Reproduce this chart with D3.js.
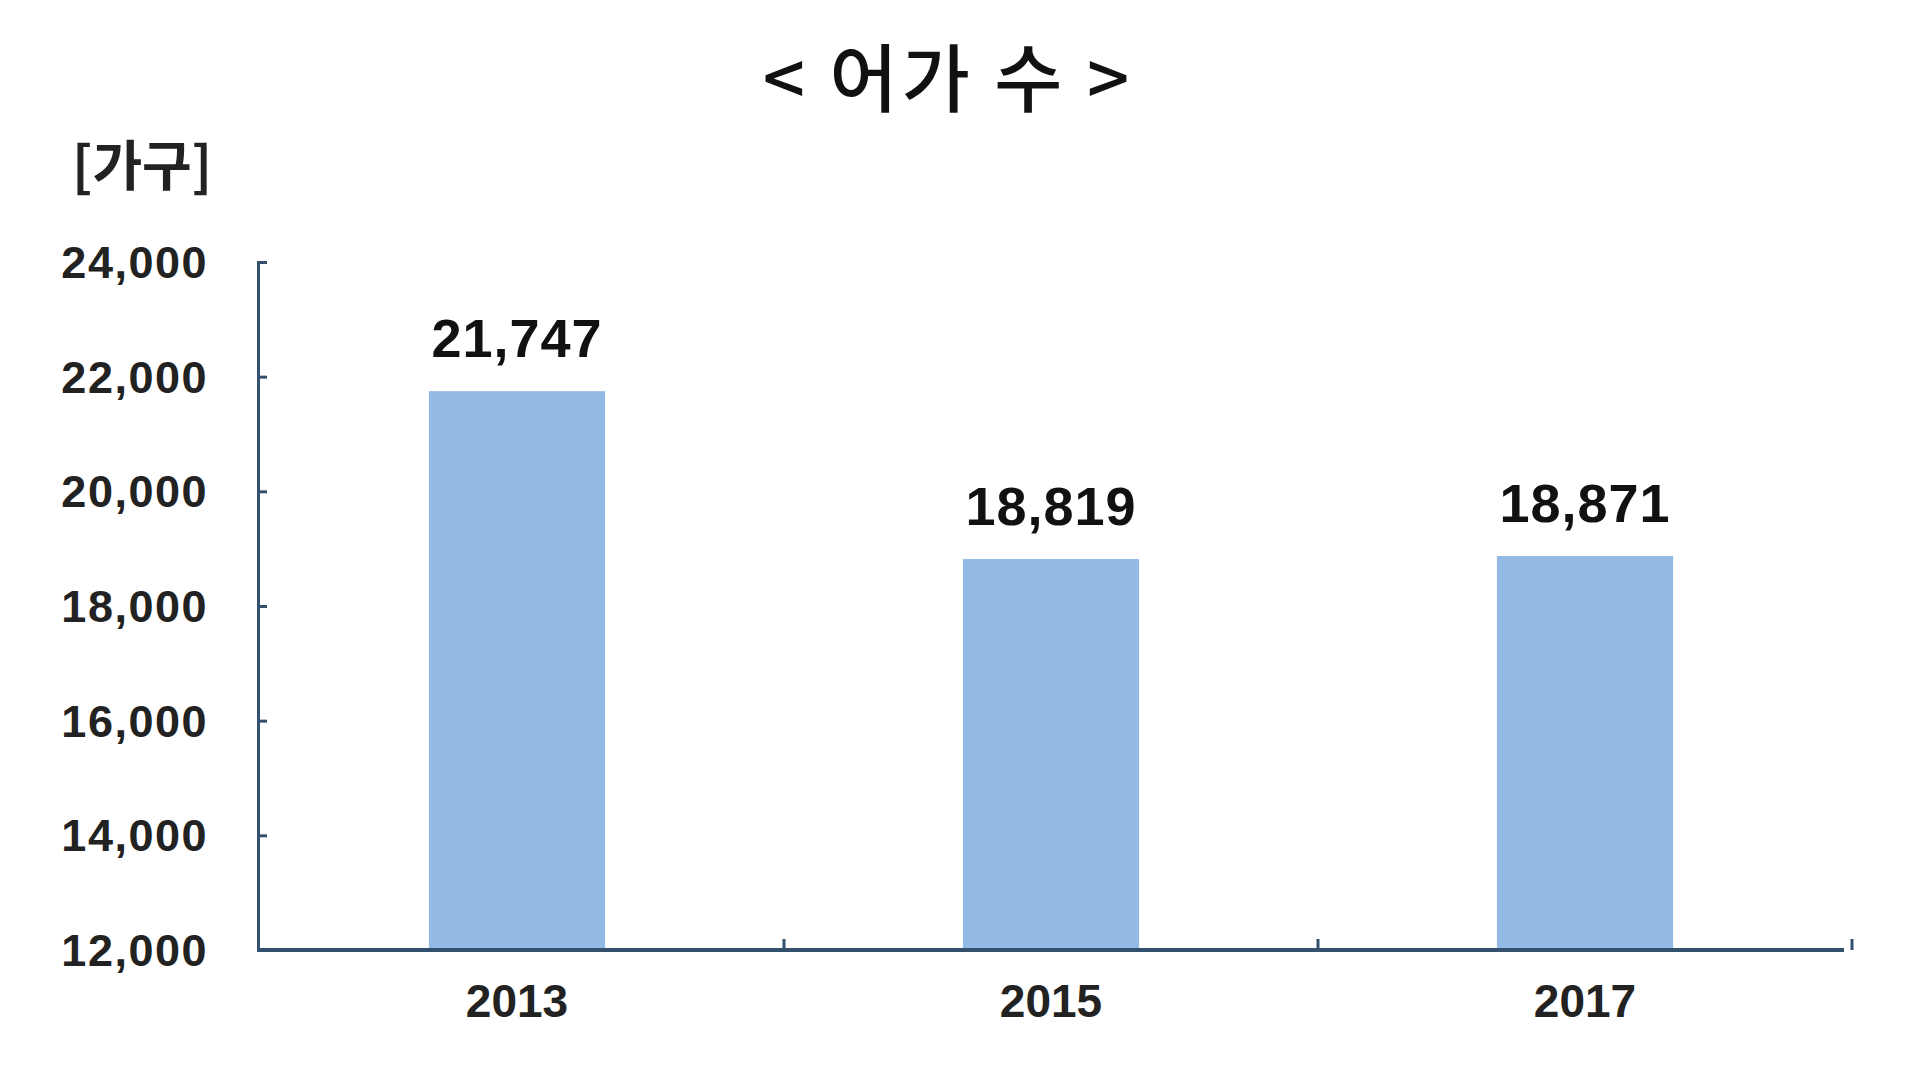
<!DOCTYPE html>
<html>
<head>
<meta charset="utf-8">
<script src="https://cdn.jsdelivr.net/npm/d3@7"></script>
<style>
  html, body { margin: 0; padding: 0; background: #fff; }
  svg { display: block; }
</style>
</head>
<body>
<div id="chart"></div>
<script>
// data
var years = ["2013", "2015", "2017"];
var households = [21747, 18819, 18871];
var yTicks = [12000, 14000, 16000, 18000, 20000, 22000, 24000];

var W = 1920, H = 1080;
var margin = {top: 262, right: 76, bottom: 130, left: 258},
    width = W - margin.left - margin.right,
    height = H - margin.top - margin.bottom;

var svg = d3.select("#chart")
  .append("svg")
    .attr("width", W)
    .attr("height", H);

var g = svg.append("g")
    .attr("transform", "translate(" + margin.left + "," + margin.top + ")");

var axisColor = "#33506e";
var numFont = "'Liberation Sans', Arial, sans-serif";
var krFont = "'Noto Sans CJK KR', 'Noto Sans', sans-serif";

var x = d3.scaleBand()
    .domain(years)
    .range([0, width])
    .paddingInner(0.67)
    .paddingOuter(0.32);

var y = d3.scaleLinear()
    .domain([12000, 24000])
    .range([height, 0]);

// title
svg.append("text")
    .attr("x", 948)
    .attr("y", 106)
    .attr("text-anchor", "middle")
    .style("font-family", krFont)
    .style("font-size", "74px")
    .style("font-weight", 500)
    .style("letter-spacing", "4px")
    .attr("fill", "#111")
    .text("< 어가 수 >");

// unit label
svg.append("text")
    .attr("x", 72)
    .attr("y", 186)
    .style("font-family", krFont)
    .style("font-size", "54px")
    .style("font-weight", 700)
    .style("letter-spacing", "0px")
    .attr("fill", "#222")
    .text("[가구]");

// bars
g.selectAll("rect.bar")
  .data(households)
  .enter()
  .append("rect")
    .attr("class", "bar")
    .attr("x", function(d, i){ return x(years[i]) })
    .attr("y", function(d){ return y(d) })
    .attr("width", x.bandwidth())
    .attr("height", function(d){ return height - y(d) })
    .attr("fill", "#93bae4");

// value labels
g.selectAll("text.val")
  .data(households)
  .enter()
  .append("text")
    .attr("class", "val")
    .attr("x", function(d, i){ return x(years[i]) + x.bandwidth() / 2 })
    .attr("y", function(d){ return y(d) - 34 })
    .attr("text-anchor", "middle")
    .style("font-family", numFont)
    .style("font-size", "54px")
    .style("font-weight", 700)
    .style("letter-spacing", "1px")
    .attr("fill", "#111")
    .text(function(d){ return d3.format(",")(d) });

// y axis, ticks point inward
var yAxis = g.append("g")
    .call(d3.axisRight(y).tickValues(yTicks).tickSize(9).tickFormat(""));
yAxis.select(".domain").attr("stroke", axisColor).attr("stroke-width", 3);
yAxis.selectAll(".tick line").attr("stroke", axisColor).attr("stroke-width", 3);

g.selectAll("text.ytick")
  .data(yTicks)
  .enter()
  .append("text")
    .attr("class", "ytick")
    .attr("x", -50)
    .attr("y", function(d){ return y(d) + 16 })
    .attr("text-anchor", "end")
    .style("font-family", numFont)
    .style("font-size", "45px")
    .style("font-weight", 700)
    .style("letter-spacing", "1.5px")
    .attr("fill", "#222")
    .text(function(d){ return d3.format(",")(d) });

// x axis line with ticks at band boundaries
var xAxis = g.append("g")
    .attr("transform", "translate(0," + height + ")");
xAxis.append("line")
    .attr("x1", 0).attr("x2", width)
    .attr("stroke", axisColor).attr("stroke-width", 4);
xAxis.selectAll("line.xt")
  .data(years)
  .enter()
  .append("line")
    .attr("class", "xt")
    .attr("x1", function(d){ return x(d) + x.bandwidth() / 2 + x.step() / 2 })
    .attr("x2", function(d){ return x(d) + x.bandwidth() / 2 + x.step() / 2 })
    .attr("y1", 0).attr("y2", -11)
    .attr("stroke", axisColor).attr("stroke-width", 3);

xAxis.selectAll("text.xl")
  .data(years)
  .enter()
  .append("text")
    .attr("class", "xl")
    .attr("x", function(d){ return x(d) + x.bandwidth() / 2 })
    .attr("y", 67)
    .attr("text-anchor", "middle")
    .style("font-family", numFont)
    .style("font-size", "46px")
    .style("font-weight", 700)
    .attr("fill", "#222")
    .text(function(d){ return d });
</script>
</body>
</html>
